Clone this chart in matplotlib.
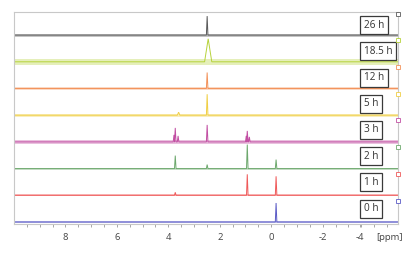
import matplotlib
matplotlib.use("Agg")
import matplotlib.pyplot as plt
import matplotlib.transforms as mtransforms
import numpy as np

# ---- data ----
times = ["0 h", "1 h", "2 h", "3 h", "5 h", "12 h", "18.5 h", "26 h"]
colors = ["#5b5bc6", "#ef5a5a", "#6da86d", "#c24fa3", "#f0cf45", "#f3925a", "#b6d23a", "#5a5a5a"]
# peaks per spectrum: (ppm, height, half width in ppm)
peaks = [
    [(-0.19, 19, 0.03)],
    [(3.73, 3, 0.03), (0.93, 21, 0.03), (-0.19, 19, 0.03)],
    [(3.73, 13, 0.03), (2.49, 4, 0.03), (0.93, 24, 0.03), (-0.19, 9, 0.03)],
    [(3.78, 7, 0.03), (3.73, 14, 0.03), (3.62, 6, 0.03), (2.49, 17, 0.03),
     (0.97, 6, 0.03), (0.93, 11, 0.03), (0.85, 5, 0.03)],
    [(3.6, 3, 0.05), (2.49, 21, 0.03)],
    [(2.49, 16, 0.03)],
    [(2.45, 23, 0.14)],
    [(2.49, 19, 0.03)],
]
noise = [1.0, 1.0, 1.0, 2.2, 1.5, 1.5, 3.0, 1.4]

xtick_pos = [8, 6, 4, 2, 0, -2, -3.45]
xtick_labels = ["8", "6", "4", "2", "0", "-2", "-4"]
unit_label = "[ppm]"

# ---- layout ----
W, H = 418, 256
fig = plt.figure(figsize=(W / 100, H / 100), dpi=100)
ax = fig.add_axes([14 / W, 1 - 224 / H, 384 / W, 212 / H])
xmin, xmax = 10.0, -4.93
ax.set_xlim(xmin, xmax)
ax.set_ylim(0, 212)

spacing = 26.7
base0 = 2.0
for i, (lab, col, pk, nz) in enumerate(zip(times, colors, peaks, noise)):
    b = base0 + spacing * i
    # noise band
    ax.fill_between([xmin, xmax], b - nz, b + nz, color=col, alpha=0.35, lw=0)
    # spectrum with peaks
    xs = [xmin]
    ys = [b]
    for (c, h, w) in sorted(pk, key=lambda p: -p[0]):
        xs += [c + w, c, c - w]
        ys += [b, b + h, b]
    xs.append(xmax)
    ys.append(b)
    ax.plot(xs, ys, color=col, lw=0.7, solid_joinstyle="miter")
    # label box
    ax.text(-3.6, 15.5 + 26.2 * i, lab, fontsize=7.2, family="Open Sans", color="#333333",
            ha="left", va="center",
            bbox=dict(boxstyle="square,pad=0.35", fc="white", ec="#3a3a3a", lw=0.9))
    # small hollow square marker at the right edge
    ax.plot([xmax], [b + 21.5], marker="s", ms=3.2, mfc="white", mec=col, mew=0.6,
            clip_on=False, zorder=5)

for s in ["left", "top", "right", "bottom"]:
    ax.spines[s].set_color("#c8c8c8")
    ax.spines[s].set_linewidth(0.8)
ax.set_yticks([])
ax.set_xticks(xtick_pos)
ax.set_xticklabels(xtick_labels, fontsize=6.8, family="Open Sans", color="#444444")
ax.set_xticks(np.arange(9.5, -5.0, -0.5), minor=True)
ax.tick_params(axis="x", which="both", direction="out", length=2.5, width=0.6,
               color="#999999", pad=4)
tr = mtransforms.offset_copy(ax.get_xaxis_transform(), fig=fig, x=0, y=-6.5, units="points")
ax.text(-4.62, 0, unit_label, transform=tr, fontsize=6.8,
        family="Open Sans", color="#444444", ha="center", va="top")

fig.savefig("out.png", dpi=100)
